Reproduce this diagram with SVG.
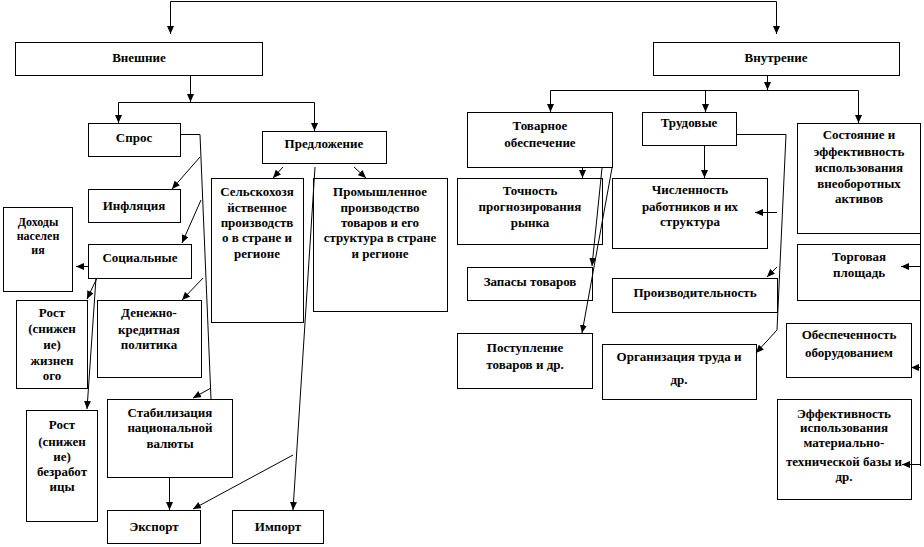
<svg xmlns="http://www.w3.org/2000/svg" width="924" height="547" viewBox="0 0 924 547">
<defs>
<marker id="ah" markerUnits="userSpaceOnUse" markerWidth="8" markerHeight="7" refX="8" refY="3.5" orient="auto">
<path d="M0,0 L8,3.5 L0,7 z" fill="#000"/>
</marker>
<style>
.box{fill:#fff;stroke:#000;stroke-width:1}
text{font-family:"Liberation Serif","Times New Roman",serif;font-weight:bold;font-size:13px;text-anchor:middle;fill:#000}
.sm{font-size:12px}
.c path{fill:none;stroke:#000;stroke-width:1}
.c .a{marker-end:url(#ah)}
</style>
</defs>
<rect width="924" height="547" fill="#fff"/>
<g id="vneshnie"><rect class="box" x="15.5" y="42.5" width="247" height="33"/><text x="139" y="62">Внешние</text></g>
<g id="vnutrennie"><rect class="box" x="653.5" y="42.5" width="246" height="33"/><text x="776" y="62">Внутрение</text></g>
<g id="spros"><rect class="box" x="88.5" y="123.5" width="92" height="33"/><text x="134" y="142">Спрос</text></g>
<g id="predlozhenie"><rect class="box" x="262.5" y="131.5" width="124" height="32"/><text x="324" y="148">Предложение</text></g>
<g id="inflyaciya"><rect class="box" x="88.5" y="189.5" width="92" height="33"/><text x="134" y="210">Инфляция</text></g>
<g id="socialnye"><rect class="box" x="88.5" y="244.5" width="103" height="34"/><text x="140" y="262">Социальные</text></g>
<g id="dohody"><rect class="box" x="3.5" y="207.5" width="69" height="84"/><text class="sm" x="38" y="226">Доходы</text><text class="sm" x="38" y="240">населен</text><text class="sm" x="38" y="254">ия</text></g>
<g id="rost-zhizn"><rect class="box" x="16.5" y="300.5" width="71" height="88"/><text x="52" y="317">Рост</text><text x="52" y="333">(снижен</text><text x="52" y="349">ие)</text><text x="52" y="365">жизнен</text><text x="52" y="380">ого</text></g>
<g id="denezhno"><rect class="box" x="97.5" y="300.5" width="104" height="77"/><text x="149" y="317">Денежно-</text><text x="149" y="334">кредитная</text><text x="149" y="349">политика</text></g>
<g id="rost-bezrab"><rect class="box" x="26.5" y="410.5" width="71" height="111"/><text x="62" y="429">Рост</text><text x="62" y="446">(снижен</text><text x="62" y="461">ие)</text><text x="62" y="476">безработ</text><text x="62" y="491">ицы</text></g>
<g id="stabil"><rect class="box" x="107.5" y="399.5" width="125" height="78"/><text x="170" y="417">Стабилизация</text><text x="170" y="432">национальной</text><text x="170" y="448">валюты</text></g>
<g id="eksport"><rect class="box" x="107.5" y="510.5" width="93" height="33"/><text x="154" y="531">Экспорт</text></g>
<g id="import"><rect class="box" x="232.5" y="510.5" width="91" height="33"/><text x="278" y="531">Импорт</text></g>
<g id="selsko"><rect class="box" x="211.5" y="178.5" width="92" height="144"/><text x="257" y="196">Сельскохозя</text><text x="257" y="212">йственное</text><text x="257" y="227">производств</text><text x="257" y="242">о в стране и</text><text x="257" y="258">регионе</text></g>
<g id="promysh"><rect class="box" x="313.5" y="178.5" width="134" height="133"/><text x="380" y="196">Промышленное</text><text x="380" y="212">производство</text><text x="380" y="227">товаров и его</text><text x="380" y="242">структура в стране</text><text x="380" y="258">и регионе</text></g>
<g id="tovarnoe"><rect class="box" x="467.5" y="112.5" width="145" height="55"/><text x="540" y="130">Товарное</text><text x="540" y="147">обеспечение</text></g>
<g id="trudovye"><rect class="box" x="642.5" y="112.5" width="94" height="33"/><text x="689" y="127">Трудовые</text></g>
<g id="sostoyanie"><rect class="box" x="797.5" y="123.5" width="123" height="110"/><text x="859" y="139">Состояние и</text><text x="859" y="156">эффективность</text><text x="859" y="172">использования</text><text x="859" y="188">внеоборотных</text><text x="859" y="203">активов</text></g>
<g id="tochnost"><rect class="box" x="457.5" y="178.5" width="145" height="66"/><text x="530" y="195">Точность</text><text x="530" y="211">прогнозирования</text><text x="530" y="227">рынка</text></g>
<g id="chislennost"><rect class="box" x="612.5" y="178.5" width="155" height="70"/><text x="690" y="194">Численность</text><text x="690" y="211">работников и их</text><text x="690" y="226">структура</text></g>
<g id="zapasy"><rect class="box" x="467.5" y="267.5" width="125" height="33"/><text x="530" y="286">Запасы товаров</text></g>
<g id="proizvod"><rect class="box" x="612.5" y="278.5" width="165" height="34"/><text x="695" y="297">Производительность</text></g>
<g id="torgovaya"><rect class="box" x="797.5" y="244.5" width="123" height="56"/><text x="859" y="261">Торговая</text><text x="859" y="277">площадь</text></g>
<g id="postuplenie"><rect class="box" x="457.5" y="333.5" width="135" height="55"/><text x="525" y="352">Поступление</text><text x="525" y="369">товаров и др.</text></g>
<g id="organizaciya"><rect class="box" x="602.5" y="344.5" width="154" height="55"/><text x="679" y="361">Организация труда и</text><text x="679" y="384">др.</text></g>
<g id="obespech"><rect class="box" x="786.5" y="323.5" width="125" height="54"/><text x="849" y="339">Обеспеченность</text><text x="849" y="357">оборудованием</text></g>
<g id="effekt"><rect class="box" x="777.5" y="399.5" width="134" height="100"/><text x="844" y="418">Эффективность</text><text x="844" y="432">использования</text><text x="844" y="447">материально-</text><text x="844" y="466">технической базы и</text><text x="844" y="481">др.</text></g>
<g class="c" id="connectors">
<path d="M170.5,1.5 H776.5"/>
<path class="a" d="M170.5,1.5 V34"/>
<path class="a" d="M776.5,1.5 V34"/>
<path class="a" d="M190.5,75 V102"/>
<path d="M118.5,102.5 H314.5"/>
<path class="a" d="M118.5,102.5 V123"/>
<path class="a" d="M314.5,102.5 V131"/>
<path class="a" d="M767.5,75 V90"/>
<path d="M550.5,90.5 H858.5"/>
<path class="a" d="M550.5,90.5 V112"/>
<path class="a" d="M705.5,90.5 V112"/>
<path class="a" d="M858.5,90.5 V123"/>
<path d="M180,134.5 H200 L211,399"/>
<path class="a" d="M200,157 L172,189"/>
<path class="a" d="M201,200 L182,243"/>
<path class="a" d="M203,278 L182,300"/>
<path class="a" d="M211,388 L193,398"/>
<path class="a" d="M88,266.5 H76"/>
<path class="a" d="M97,278 L87,299"/>
<path class="a" d="M96,278 L87,409"/>
<path class="a" d="M283,167 L273,178"/>
<path class="a" d="M354,167 L366,178"/>
<path class="a" d="M315,167 L293,510"/>
<path class="a" d="M293,455 L193,509"/>
<path class="a" d="M169.5,477 V510"/>
<path class="a" d="M582.5,167 V178"/>
<path class="a" d="M602,168 L592,266"/>
<path class="a" d="M612,168 L582,333"/>
<path class="a" d="M704.5,145 V178"/>
<path class="a" d="M737,134.5 H786 L777,330 L756,353"/>
<path class="a" d="M777,212.5 H755"/>
<path class="a" d="M777,267 L767,277"/>
<path d="M920.5,123 V466"/>
<path class="a" d="M920.5,266.5 H901"/>
<path class="a" d="M920.5,367.5 H911"/>
<path class="a" d="M920.5,464.5 H902"/>
</g>
</svg>
